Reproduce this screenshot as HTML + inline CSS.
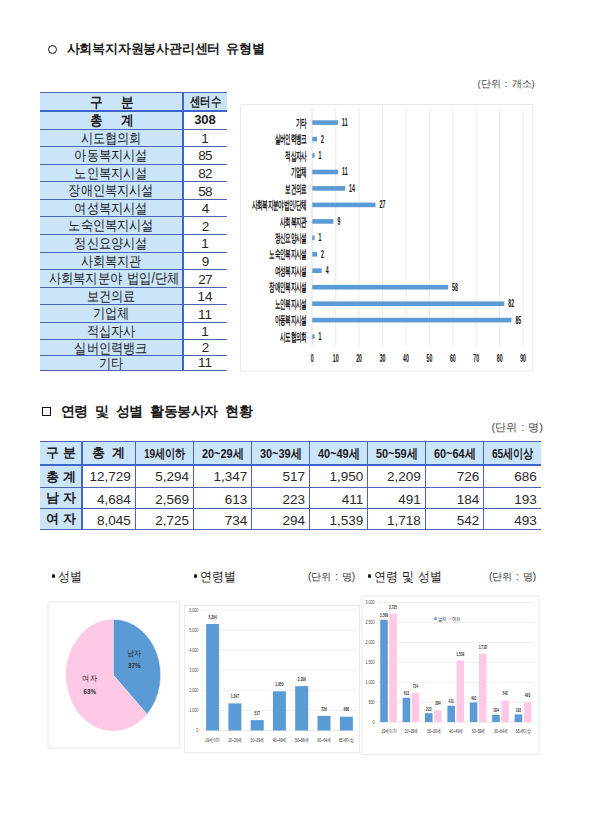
<!DOCTYPE html>
<html lang="ko"><head><meta charset="utf-8"><title>사회복지자원봉사 현황</title>
<style>
html,body{margin:0;padding:0;background:#fff;}
body{width:603px;height:822px;position:relative;overflow:hidden;font-family:"Liberation Sans",sans-serif;color:#1a1a1a;}
.abs{position:absolute;white-space:nowrap;}
.c{position:absolute;white-space:nowrap;text-align:center;}
.r{position:absolute;white-space:nowrap;text-align:right;}
.b{font-weight:bold;}
.hl{position:absolute;background:#4B63B3;}
.hk{background:#3F64CC;}
.fill{position:absolute;background:#CAE4FA;}
.nx{display:inline-block;transform-origin:50% 50%;}
svg{position:absolute;left:0;top:0;}
svg text{font-family:"Liberation Sans",sans-serif;}
</style></head><body>

<div class="abs" style="left:48px;top:45px;width:7px;height:7px;border:1.2px solid #111;border-radius:50%;"></div>
<div class="abs b" style="left:66.5px;top:40px;font-size:13px;line-height:18px;letter-spacing:-0.2px;word-spacing:2.5px;">사회복지자원봉사관리센터 유형별</div>
<div class="abs" style="left:477.5px;top:78px;font-size:9.5px;line-height:12px;color:#444;word-spacing:1.5px;">(단위 : 개소)</div>
<div class="fill" style="left:40px;top:92.5px;width:142px;height:277.5px;"></div>
<div class="fill" style="left:182px;top:92.5px;width:45px;height:18.3px;"></div>
<div class="hl" style="left:40px;top:92px;width:187px;height:1px;"></div>
<div class="hl hk" style="left:40px;top:110px;width:187px;height:2px;"></div>
<div class="hl" style="left:40px;top:129px;width:187px;height:1px;"></div>
<div class="hl" style="left:40px;top:146px;width:187px;height:1px;"></div>
<div class="hl" style="left:40px;top:164px;width:187px;height:1px;"></div>
<div class="hl" style="left:40px;top:181px;width:187px;height:1px;"></div>
<div class="hl" style="left:40px;top:199px;width:187px;height:1px;"></div>
<div class="hl" style="left:40px;top:216px;width:187px;height:1px;"></div>
<div class="hl" style="left:40px;top:234px;width:187px;height:1px;"></div>
<div class="hl" style="left:40px;top:252px;width:187px;height:1px;"></div>
<div class="hl" style="left:40px;top:269px;width:187px;height:1px;"></div>
<div class="hl" style="left:40px;top:287px;width:187px;height:1px;"></div>
<div class="hl" style="left:40px;top:304px;width:187px;height:1px;"></div>
<div class="hl" style="left:40px;top:322px;width:187px;height:1px;"></div>
<div class="hl" style="left:40px;top:339px;width:187px;height:1px;"></div>
<div class="hl" style="left:40px;top:355px;width:187px;height:1px;"></div>
<div class="hl" style="left:40px;top:370px;width:187px;height:1px;"></div>
<div class="hl hk" style="left:182px;top:92px;width:2px;height:279px;"></div>
<div class="c b" style="left:41px;top:93.0px;width:142px;height:18.3px;line-height:18.3px;font-size:14px;word-spacing:3px;transform:scaleX(0.9);">구&nbsp;&nbsp;&nbsp;분</div>
<div class="c b" style="left:183px;top:93.0px;width:44px;height:18.3px;line-height:18.3px;font-size:13px;"><span class="nx" style="transform:scaleX(0.8);">센터수</span></div>
<div class="c b" style="left:41px;top:111.3px;width:142px;height:18.6px;line-height:18.6px;font-size:14px;word-spacing:3px;transform:scaleX(0.9);">총&nbsp;&nbsp;&nbsp;계</div>
<div class="c b" style="left:183px;top:111.3px;width:44px;height:18.6px;line-height:18.6px;font-size:13px;">308</div>
<div class="c" style="left:40px;top:129.9px;width:142px;height:17.0px;line-height:17.0px;font-size:14px;word-spacing:1px;transform:scaleX(0.87);">시도협의회</div>
<div class="c" style="left:183px;top:130.4px;width:44px;height:17.0px;line-height:17.0px;font-size:13.5px;color:#262626;">1</div>
<div class="c" style="left:40px;top:146.9px;width:142px;height:17.9px;line-height:17.9px;font-size:14px;word-spacing:1px;transform:scaleX(0.87);">아동복지시설</div>
<div class="c" style="left:183px;top:147.4px;width:44px;height:17.9px;line-height:17.9px;font-size:13.5px;letter-spacing:-0.8px;color:#262626;">85</div>
<div class="c" style="left:40px;top:164.8px;width:142px;height:17.3px;line-height:17.3px;font-size:14px;word-spacing:1px;transform:scaleX(0.87);">노인복지시설</div>
<div class="c" style="left:183px;top:165.3px;width:44px;height:17.3px;line-height:17.3px;font-size:13.5px;letter-spacing:-0.8px;color:#262626;">82</div>
<div class="c" style="left:40px;top:182.1px;width:142px;height:17.7px;line-height:17.7px;font-size:14px;word-spacing:1px;transform:scaleX(0.87);">장애인복지시설</div>
<div class="c" style="left:183px;top:182.6px;width:44px;height:17.7px;line-height:17.7px;font-size:13.5px;letter-spacing:-0.8px;color:#262626;">58</div>
<div class="c" style="left:40px;top:199.8px;width:142px;height:17.3px;line-height:17.3px;font-size:14px;word-spacing:1px;transform:scaleX(0.87);">여성복지시설</div>
<div class="c" style="left:183px;top:200.3px;width:44px;height:17.3px;line-height:17.3px;font-size:13.5px;letter-spacing:-0.8px;color:#262626;">4</div>
<div class="c" style="left:40px;top:217.1px;width:142px;height:17.6px;line-height:17.6px;font-size:14px;word-spacing:1px;transform:scaleX(0.87);">노숙인복지시설</div>
<div class="c" style="left:183px;top:217.6px;width:44px;height:17.6px;line-height:17.6px;font-size:13.5px;letter-spacing:-0.8px;color:#262626;">2</div>
<div class="c" style="left:40px;top:234.7px;width:142px;height:17.9px;line-height:17.9px;font-size:14px;word-spacing:1px;transform:scaleX(0.87);">정신요양시설</div>
<div class="c" style="left:183px;top:235.2px;width:44px;height:17.9px;line-height:17.9px;font-size:13.5px;color:#262626;">1</div>
<div class="c" style="left:40px;top:252.6px;width:142px;height:17.5px;line-height:17.5px;font-size:14px;word-spacing:1px;transform:scaleX(0.87);">사회복지관</div>
<div class="c" style="left:183px;top:253.1px;width:44px;height:17.5px;line-height:17.5px;font-size:13.5px;letter-spacing:-0.8px;color:#262626;">9</div>
<div class="c" style="left:40px;top:270.1px;width:142px;height:17.7px;line-height:17.7px;font-size:14px;word-spacing:1px;transform:scaleX(0.88);">사회복지분야 법입/단체</div>
<div class="c" style="left:183px;top:270.6px;width:44px;height:17.7px;line-height:17.7px;font-size:13.5px;letter-spacing:-0.8px;color:#262626;">27</div>
<div class="c" style="left:40px;top:287.8px;width:142px;height:17.3px;line-height:17.3px;font-size:14px;word-spacing:1px;transform:scaleX(0.87);">보건의료</div>
<div class="c" style="left:183px;top:288.3px;width:44px;height:17.3px;line-height:17.3px;font-size:13.5px;color:#262626;">14</div>
<div class="c" style="left:40px;top:305.1px;width:142px;height:17.7px;line-height:17.7px;font-size:14px;word-spacing:1px;transform:scaleX(0.87);">기업체</div>
<div class="c" style="left:183px;top:305.6px;width:44px;height:17.7px;line-height:17.7px;font-size:13.5px;color:#262626;">11</div>
<div class="c" style="left:40px;top:322.8px;width:142px;height:17.0px;line-height:17.0px;font-size:14px;word-spacing:1px;transform:scaleX(0.87);">적십자사</div>
<div class="c" style="left:183px;top:323.3px;width:44px;height:17.0px;line-height:17.0px;font-size:13.5px;color:#262626;">1</div>
<div class="c" style="left:40px;top:339.8px;width:142px;height:16.1px;line-height:16.1px;font-size:14px;word-spacing:1px;transform:scaleX(0.87);">실버인력뱅크</div>
<div class="c" style="left:183px;top:340.3px;width:44px;height:16.1px;line-height:16.1px;font-size:13.5px;letter-spacing:-0.8px;color:#262626;">2</div>
<div class="c" style="left:40px;top:355.9px;width:142px;height:14.6px;line-height:14.6px;font-size:14px;word-spacing:1px;transform:scaleX(0.87);">기타</div>
<div class="c" style="left:183px;top:356.4px;width:44px;height:14.6px;line-height:14.6px;font-size:13.5px;color:#262626;">11</div>
<svg width="603" height="822" viewBox="0 0 603 822">
<rect x="240.5" y="104.5" width="292" height="266.6" fill="#fff" stroke="#e9e9e9" stroke-width="1"/>
<line x1="335.7" y1="108" x2="335.7" y2="346" stroke="#ebebeb" stroke-width="1"/>
<line x1="359.1" y1="108" x2="359.1" y2="346" stroke="#ebebeb" stroke-width="1"/>
<line x1="382.6" y1="108" x2="382.6" y2="346" stroke="#ebebeb" stroke-width="1"/>
<line x1="406.0" y1="108" x2="406.0" y2="346" stroke="#ebebeb" stroke-width="1"/>
<line x1="429.4" y1="108" x2="429.4" y2="346" stroke="#ebebeb" stroke-width="1"/>
<line x1="452.8" y1="108" x2="452.8" y2="346" stroke="#ebebeb" stroke-width="1"/>
<line x1="476.2" y1="108" x2="476.2" y2="346" stroke="#ebebeb" stroke-width="1"/>
<line x1="499.7" y1="108" x2="499.7" y2="346" stroke="#ebebeb" stroke-width="1"/>
<line x1="523.1" y1="108" x2="523.1" y2="346" stroke="#ebebeb" stroke-width="1"/>
<line x1="312" y1="108" x2="312" y2="346" stroke="#dedede" stroke-width="1"/>
<rect x="312.3" y="120.3" width="25.8" height="4.6" fill="#5B9BD5"/>
<text x="306.8" y="126.8" font-size="12" font-weight="bold" fill="#111" text-anchor="end" transform="translate(306.8 0) scale(0.465 1) translate(-306.8 0)">기타</text>
<text x="342.1" y="126.1" font-size="10" font-weight="bold" fill="#111" transform="translate(342.1 0) scale(0.52 1) translate(-342.1 0)">11</text>
<rect x="312.3" y="136.8" width="4.7" height="4.6" fill="#5B9BD5"/>
<text x="306.8" y="143.3" font-size="12" font-weight="bold" fill="#111" text-anchor="end" transform="translate(306.8 0) scale(0.465 1) translate(-306.8 0)">실버인력뱅크</text>
<text x="321.0" y="142.6" font-size="10" font-weight="bold" fill="#111" transform="translate(321.0 0) scale(0.52 1) translate(-321.0 0)">2</text>
<rect x="312.3" y="153.2" width="2.3" height="4.6" fill="#5B9BD5"/>
<text x="306.8" y="159.7" font-size="12" font-weight="bold" fill="#111" text-anchor="end" transform="translate(306.8 0) scale(0.465 1) translate(-306.8 0)">적십자사</text>
<text x="318.6" y="159.0" font-size="10" font-weight="bold" fill="#111" transform="translate(318.6 0) scale(0.52 1) translate(-318.6 0)">1</text>
<rect x="312.3" y="169.7" width="25.8" height="4.6" fill="#5B9BD5"/>
<text x="306.8" y="176.2" font-size="12" font-weight="bold" fill="#111" text-anchor="end" transform="translate(306.8 0) scale(0.465 1) translate(-306.8 0)">기업체</text>
<text x="342.1" y="175.5" font-size="10" font-weight="bold" fill="#111" transform="translate(342.1 0) scale(0.52 1) translate(-342.1 0)">11</text>
<rect x="312.3" y="186.1" width="32.8" height="4.6" fill="#5B9BD5"/>
<text x="306.8" y="192.6" font-size="12" font-weight="bold" fill="#111" text-anchor="end" transform="translate(306.8 0) scale(0.465 1) translate(-306.8 0)">보건의료</text>
<text x="349.1" y="191.9" font-size="10" font-weight="bold" fill="#111" transform="translate(349.1 0) scale(0.52 1) translate(-349.1 0)">14</text>
<rect x="312.3" y="202.6" width="63.2" height="4.6" fill="#5B9BD5"/>
<text x="306.8" y="209.1" font-size="12" font-weight="bold" fill="#111" text-anchor="end" transform="translate(306.8 0) scale(0.465 1) translate(-306.8 0)">사회복지분야법인/단체</text>
<text x="379.5" y="208.4" font-size="10" font-weight="bold" fill="#111" transform="translate(379.5 0) scale(0.52 1) translate(-379.5 0)">27</text>
<rect x="312.3" y="219.1" width="21.1" height="4.6" fill="#5B9BD5"/>
<text x="306.8" y="225.6" font-size="12" font-weight="bold" fill="#111" text-anchor="end" transform="translate(306.8 0) scale(0.465 1) translate(-306.8 0)">사회복지관</text>
<text x="337.4" y="224.9" font-size="10" font-weight="bold" fill="#111" transform="translate(337.4 0) scale(0.52 1) translate(-337.4 0)">9</text>
<rect x="312.3" y="235.5" width="2.3" height="4.6" fill="#5B9BD5"/>
<text x="306.8" y="242.0" font-size="12" font-weight="bold" fill="#111" text-anchor="end" transform="translate(306.8 0) scale(0.465 1) translate(-306.8 0)">정신요양시설</text>
<text x="318.6" y="241.3" font-size="10" font-weight="bold" fill="#111" transform="translate(318.6 0) scale(0.52 1) translate(-318.6 0)">1</text>
<rect x="312.3" y="252.0" width="4.7" height="4.6" fill="#5B9BD5"/>
<text x="306.8" y="258.5" font-size="12" font-weight="bold" fill="#111" text-anchor="end" transform="translate(306.8 0) scale(0.465 1) translate(-306.8 0)">노숙인복지시설</text>
<text x="321.0" y="257.8" font-size="10" font-weight="bold" fill="#111" transform="translate(321.0 0) scale(0.52 1) translate(-321.0 0)">2</text>
<rect x="312.3" y="268.4" width="9.4" height="4.6" fill="#5B9BD5"/>
<text x="306.8" y="274.9" font-size="12" font-weight="bold" fill="#111" text-anchor="end" transform="translate(306.8 0) scale(0.465 1) translate(-306.8 0)">여성복지시설</text>
<text x="325.7" y="274.2" font-size="10" font-weight="bold" fill="#111" transform="translate(325.7 0) scale(0.52 1) translate(-325.7 0)">4</text>
<rect x="312.3" y="284.9" width="135.8" height="4.6" fill="#5B9BD5"/>
<text x="306.8" y="291.4" font-size="12" font-weight="bold" fill="#111" text-anchor="end" transform="translate(306.8 0) scale(0.465 1) translate(-306.8 0)">장애인복지시설</text>
<text x="452.1" y="290.7" font-size="10" font-weight="bold" fill="#111" transform="translate(452.1 0) scale(0.52 1) translate(-452.1 0)">58</text>
<rect x="312.3" y="301.4" width="192.0" height="4.6" fill="#5B9BD5"/>
<text x="306.8" y="307.9" font-size="12" font-weight="bold" fill="#111" text-anchor="end" transform="translate(306.8 0) scale(0.465 1) translate(-306.8 0)">노인복지시설</text>
<text x="508.3" y="307.2" font-size="10" font-weight="bold" fill="#111" transform="translate(508.3 0) scale(0.52 1) translate(-508.3 0)">82</text>
<rect x="312.3" y="317.8" width="199.1" height="4.6" fill="#5B9BD5"/>
<text x="306.8" y="324.3" font-size="12" font-weight="bold" fill="#111" text-anchor="end" transform="translate(306.8 0) scale(0.465 1) translate(-306.8 0)">아동복지시설</text>
<text x="515.4" y="323.6" font-size="10" font-weight="bold" fill="#111" transform="translate(515.4 0) scale(0.52 1) translate(-515.4 0)">85</text>
<rect x="312.3" y="334.3" width="2.3" height="4.6" fill="#5B9BD5"/>
<text x="306.8" y="340.8" font-size="12" font-weight="bold" fill="#111" text-anchor="end" transform="translate(306.8 0) scale(0.465 1) translate(-306.8 0)">시도협의회</text>
<text x="318.6" y="340.1" font-size="10" font-weight="bold" fill="#111" transform="translate(318.6 0) scale(0.52 1) translate(-318.6 0)">1</text>
<text x="312.3" y="362" font-size="10" font-weight="bold" fill="#111" text-anchor="middle" transform="translate(312.3 0) scale(0.52 1) translate(-312.3 0)">0</text>
<text x="335.7" y="362" font-size="10" font-weight="bold" fill="#111" text-anchor="middle" transform="translate(335.7 0) scale(0.52 1) translate(-335.7 0)">10</text>
<text x="359.1" y="362" font-size="10" font-weight="bold" fill="#111" text-anchor="middle" transform="translate(359.1 0) scale(0.52 1) translate(-359.1 0)">20</text>
<text x="382.6" y="362" font-size="10" font-weight="bold" fill="#111" text-anchor="middle" transform="translate(382.6 0) scale(0.52 1) translate(-382.6 0)">30</text>
<text x="406.0" y="362" font-size="10" font-weight="bold" fill="#111" text-anchor="middle" transform="translate(406.0 0) scale(0.52 1) translate(-406.0 0)">40</text>
<text x="429.4" y="362" font-size="10" font-weight="bold" fill="#111" text-anchor="middle" transform="translate(429.4 0) scale(0.52 1) translate(-429.4 0)">50</text>
<text x="452.8" y="362" font-size="10" font-weight="bold" fill="#111" text-anchor="middle" transform="translate(452.8 0) scale(0.52 1) translate(-452.8 0)">60</text>
<text x="476.2" y="362" font-size="10" font-weight="bold" fill="#111" text-anchor="middle" transform="translate(476.2 0) scale(0.52 1) translate(-476.2 0)">70</text>
<text x="499.7" y="362" font-size="10" font-weight="bold" fill="#111" text-anchor="middle" transform="translate(499.7 0) scale(0.52 1) translate(-499.7 0)">80</text>
<text x="523.1" y="362" font-size="10" font-weight="bold" fill="#111" text-anchor="middle" transform="translate(523.1 0) scale(0.52 1) translate(-523.1 0)">90</text>
</svg>
<div class="abs" style="left:41.5px;top:407px;width:7.2px;height:7px;border:1.4px solid #111;"></div>
<div class="abs b" style="left:60.5px;top:401px;font-size:14px;line-height:20px;letter-spacing:-0.5px;word-spacing:4px;">연령 및 성별 활동봉사자 현황</div>
<div class="abs" style="left:491.5px;top:419.5px;font-size:11px;line-height:14px;color:#444;word-spacing:1px;">(단위 : 명)</div>
<div class="fill" style="left:40.0px;top:441.2px;width:501.4px;height:23.4px;"></div>
<div class="fill" style="left:40.0px;top:441.2px;width:41.7px;height:88.3px;"></div>
<div class="hl" style="left:40px;top:441px;width:501px;height:1px;"></div>
<div class="hl hk" style="left:40px;top:464px;width:501px;height:2px;"></div>
<div class="hl" style="left:40px;top:487px;width:501px;height:1px;"></div>
<div class="hl" style="left:40px;top:508px;width:501px;height:1px;"></div>
<div class="hl" style="left:40px;top:529px;width:501px;height:1px;"></div>
<div class="hl hk" style="left:81px;top:441px;width:2px;height:89px;"></div>
<div class="hl" style="left:135px;top:441px;width:1px;height:89px;"></div>
<div class="hl" style="left:193px;top:441px;width:1px;height:89px;"></div>
<div class="hl" style="left:251px;top:441px;width:1px;height:89px;"></div>
<div class="hl" style="left:309px;top:441px;width:1px;height:89px;"></div>
<div class="hl" style="left:367px;top:441px;width:1px;height:89px;"></div>
<div class="hl" style="left:425px;top:441px;width:1px;height:89px;"></div>
<div class="hl" style="left:483px;top:441px;width:1px;height:89px;"></div>
<div class="c b" style="left:40.0px;top:442.2px;width:41.7px;height:23.4px;line-height:23.4px;font-size:12.5px;">구&nbsp;분</div>
<div class="c b" style="left:81.7px;top:442.2px;width:53.8px;height:23.4px;line-height:23.4px;font-size:12.5px;">총&nbsp;&nbsp;계</div>
<div class="c b" style="left:135.5px;top:442.2px;width:58.2px;height:23.4px;line-height:23.4px;font-size:13.0px;"><span class="nx" style="transform:scaleX(0.78);">19세이하</span></div>
<div class="c b" style="left:193.7px;top:442.2px;width:58.1px;height:23.4px;line-height:23.4px;font-size:13.0px;"><span class="nx" style="transform:scaleX(0.84);">20~29세</span></div>
<div class="c b" style="left:251.8px;top:442.2px;width:57.9px;height:23.4px;line-height:23.4px;font-size:13.0px;"><span class="nx" style="transform:scaleX(0.84);">30~39세</span></div>
<div class="c b" style="left:309.7px;top:442.2px;width:58.1px;height:23.4px;line-height:23.4px;font-size:13.0px;"><span class="nx" style="transform:scaleX(0.84);">40~49세</span></div>
<div class="c b" style="left:367.8px;top:442.2px;width:57.5px;height:23.4px;line-height:23.4px;font-size:13.0px;"><span class="nx" style="transform:scaleX(0.84);">50~59세</span></div>
<div class="c b" style="left:425.3px;top:442.2px;width:58.5px;height:23.4px;line-height:23.4px;font-size:13.0px;"><span class="nx" style="transform:scaleX(0.84);">60~64세</span></div>
<div class="c b" style="left:483.8px;top:442.2px;width:57.6px;height:23.4px;line-height:23.4px;font-size:13.0px;"><span class="nx" style="transform:scaleX(0.78);">65세이상</span></div>
<div class="c b" style="left:40.0px;top:465.6px;width:41.7px;height:22.6px;line-height:22.6px;font-size:12.5px;letter-spacing:0.3px;">총&nbsp;계</div>
<div class="r" style="left:81.7px;top:466.1px;width:49.2px;height:22.6px;line-height:22.6px;font-size:13.5px;color:#2a2a2a;">12,729</div>
<div class="r" style="left:135.5px;top:466.1px;width:53.6px;height:22.6px;line-height:22.6px;font-size:13.5px;color:#2a2a2a;">5,294</div>
<div class="r" style="left:193.7px;top:466.1px;width:53.5px;height:22.6px;line-height:22.6px;font-size:13.5px;color:#2a2a2a;">1,347</div>
<div class="r" style="left:251.8px;top:466.1px;width:53.3px;height:22.6px;line-height:22.6px;font-size:13.5px;color:#2a2a2a;">517</div>
<div class="r" style="left:309.7px;top:466.1px;width:53.5px;height:22.6px;line-height:22.6px;font-size:13.5px;color:#2a2a2a;">1,950</div>
<div class="r" style="left:367.8px;top:466.1px;width:52.9px;height:22.6px;line-height:22.6px;font-size:13.5px;color:#2a2a2a;">2,209</div>
<div class="r" style="left:425.3px;top:466.1px;width:53.9px;height:22.6px;line-height:22.6px;font-size:13.5px;color:#2a2a2a;">726</div>
<div class="r" style="left:483.8px;top:466.1px;width:53.0px;height:22.6px;line-height:22.6px;font-size:13.5px;color:#2a2a2a;">686</div>
<div class="c b" style="left:40.0px;top:488.2px;width:41.7px;height:21.2px;line-height:21.2px;font-size:12.5px;letter-spacing:0.3px;">남&nbsp;자</div>
<div class="r" style="left:81.7px;top:488.7px;width:49.2px;height:21.2px;line-height:21.2px;font-size:13.5px;color:#2a2a2a;">4,684</div>
<div class="r" style="left:135.5px;top:488.7px;width:53.6px;height:21.2px;line-height:21.2px;font-size:13.5px;color:#2a2a2a;">2,569</div>
<div class="r" style="left:193.7px;top:488.7px;width:53.5px;height:21.2px;line-height:21.2px;font-size:13.5px;color:#2a2a2a;">613</div>
<div class="r" style="left:251.8px;top:488.7px;width:53.3px;height:21.2px;line-height:21.2px;font-size:13.5px;color:#2a2a2a;">223</div>
<div class="r" style="left:309.7px;top:488.7px;width:53.5px;height:21.2px;line-height:21.2px;font-size:13.5px;color:#2a2a2a;">411</div>
<div class="r" style="left:367.8px;top:488.7px;width:52.9px;height:21.2px;line-height:21.2px;font-size:13.5px;color:#2a2a2a;">491</div>
<div class="r" style="left:425.3px;top:488.7px;width:53.9px;height:21.2px;line-height:21.2px;font-size:13.5px;color:#2a2a2a;">184</div>
<div class="r" style="left:483.8px;top:488.7px;width:53.0px;height:21.2px;line-height:21.2px;font-size:13.5px;color:#2a2a2a;">193</div>
<div class="c b" style="left:40.0px;top:509.4px;width:41.7px;height:21.1px;line-height:21.1px;font-size:12.5px;letter-spacing:0.3px;">여&nbsp;자</div>
<div class="r" style="left:81.7px;top:509.9px;width:49.2px;height:21.1px;line-height:21.1px;font-size:13.5px;color:#2a2a2a;">8,045</div>
<div class="r" style="left:135.5px;top:509.9px;width:53.6px;height:21.1px;line-height:21.1px;font-size:13.5px;color:#2a2a2a;">2,725</div>
<div class="r" style="left:193.7px;top:509.9px;width:53.5px;height:21.1px;line-height:21.1px;font-size:13.5px;color:#2a2a2a;">734</div>
<div class="r" style="left:251.8px;top:509.9px;width:53.3px;height:21.1px;line-height:21.1px;font-size:13.5px;color:#2a2a2a;">294</div>
<div class="r" style="left:309.7px;top:509.9px;width:53.5px;height:21.1px;line-height:21.1px;font-size:13.5px;color:#2a2a2a;">1,539</div>
<div class="r" style="left:367.8px;top:509.9px;width:52.9px;height:21.1px;line-height:21.1px;font-size:13.5px;color:#2a2a2a;">1,718</div>
<div class="r" style="left:425.3px;top:509.9px;width:53.9px;height:21.1px;line-height:21.1px;font-size:13.5px;color:#2a2a2a;">542</div>
<div class="r" style="left:483.8px;top:509.9px;width:53.0px;height:21.1px;line-height:21.1px;font-size:13.5px;color:#2a2a2a;">493</div>
<div class="abs" style="left:51.5px;top:569.0px;font-size:12.5px;line-height:16px;word-spacing:0.0px;"><span style="display:inline-block;width:3.4px;height:3.4px;border-radius:50%;background:#111;vertical-align:3.5px;margin-right:3.2px;"></span><span class="nx" style="transform:scaleX(0.92);transform-origin:0 50%;">성별</span></div>
<div class="abs" style="left:193.8px;top:569.0px;font-size:12.5px;line-height:16px;word-spacing:0.0px;"><span style="display:inline-block;width:3.4px;height:3.4px;border-radius:50%;background:#111;vertical-align:3.5px;margin-right:3.2px;"></span><span class="nx" style="transform:scaleX(0.92);transform-origin:0 50%;">연령별</span></div>
<div class="abs" style="left:308px;top:570px;font-size:10px;line-height:14px;color:#333;word-spacing:1px;">(단위 : 명)</div>
<div class="abs" style="left:367.6px;top:569.0px;font-size:12.5px;line-height:16px;word-spacing:0.8px;"><span style="display:inline-block;width:3.4px;height:3.4px;border-radius:50%;background:#111;vertical-align:3.5px;margin-right:3.2px;"></span><span class="nx" style="transform:scaleX(0.92);transform-origin:0 50%;">연령 및 성별</span></div>
<div class="abs" style="left:489px;top:570px;font-size:10px;line-height:14px;color:#333;word-spacing:1px;">(단위 : 명)</div>
<svg width="603" height="822" viewBox="0 0 603 822">
<rect x="48" y="602" width="131.3" height="146.2" fill="#fff" stroke="#e8e8e8" stroke-width="1"/>
<ellipse cx="113.3" cy="675.1" rx="47.4" ry="55.8" fill="#FFC9E6"/>
<path d="M113.3 675.1 L113.3 619.3 A47.4 55.8 0 0 1 147.1 714.2 Z" fill="#5B9BD5" stroke="#fff" stroke-width="0.6"/>
<text x="134.2" y="655.8" font-size="8" fill="#2a2a2a" text-anchor="middle" transform="translate(134.2 0) scale(0.9 1) translate(-134.2 0)">남자</text>
<text x="134.2" y="668.2" font-size="7" font-weight="bold" fill="#2a2a2a" text-anchor="middle" transform="translate(134.2 0) scale(0.9 1) translate(-134.2 0)">37%</text>
<text x="89.7" y="681.3" font-size="8" fill="#2a2a2a" text-anchor="middle" transform="translate(89.7 0) scale(0.9 1) translate(-89.7 0)">여자</text>
<text x="89.7" y="693.8" font-size="7" font-weight="bold" fill="#2a2a2a" text-anchor="middle" transform="translate(89.7 0) scale(0.9 1) translate(-89.7 0)">63%</text>
<rect x="184.6" y="605.6" width="175" height="147" fill="#fff" stroke="#e8e8e8" stroke-width="1"/>
<line x1="201.4" y1="730.5" x2="357.3" y2="730.5" stroke="#e8e8e8" stroke-width="0.8"/>
<text x="198.4" y="732.3" font-size="5.4" fill="#444" text-anchor="end" transform="translate(198.4 0) scale(0.68 1) translate(-198.4 0)">0</text>
<line x1="201.4" y1="710.4" x2="357.3" y2="710.4" stroke="#e8e8e8" stroke-width="0.8"/>
<text x="198.4" y="712.2" font-size="5.4" fill="#444" text-anchor="end" transform="translate(198.4 0) scale(0.68 1) translate(-198.4 0)">1,000</text>
<line x1="201.4" y1="690.3" x2="357.3" y2="690.3" stroke="#e8e8e8" stroke-width="0.8"/>
<text x="198.4" y="692.1" font-size="5.4" fill="#444" text-anchor="end" transform="translate(198.4 0) scale(0.68 1) translate(-198.4 0)">2,000</text>
<line x1="201.4" y1="670.1" x2="357.3" y2="670.1" stroke="#e8e8e8" stroke-width="0.8"/>
<text x="198.4" y="671.9" font-size="5.4" fill="#444" text-anchor="end" transform="translate(198.4 0) scale(0.68 1) translate(-198.4 0)">3,000</text>
<line x1="201.4" y1="650.0" x2="357.3" y2="650.0" stroke="#e8e8e8" stroke-width="0.8"/>
<text x="198.4" y="651.8" font-size="5.4" fill="#444" text-anchor="end" transform="translate(198.4 0) scale(0.68 1) translate(-198.4 0)">4,000</text>
<line x1="201.4" y1="629.9" x2="357.3" y2="629.9" stroke="#e8e8e8" stroke-width="0.8"/>
<text x="198.4" y="631.7" font-size="5.4" fill="#444" text-anchor="end" transform="translate(198.4 0) scale(0.68 1) translate(-198.4 0)">5,000</text>
<line x1="201.4" y1="609.8" x2="357.3" y2="609.8" stroke="#e8e8e8" stroke-width="0.8"/>
<text x="198.4" y="611.6" font-size="5.4" fill="#444" text-anchor="end" transform="translate(198.4 0) scale(0.68 1) translate(-198.4 0)">6,000</text>
<rect x="206.1" y="624.0" width="13" height="106.5" fill="#5B9BD5"/>
<text x="212.6" y="618.7" font-size="5.4" font-weight="bold" fill="#333" text-anchor="middle" transform="translate(212.6 0) scale(0.62 1) translate(-212.6 0)">5,294</text>
<text x="212.6" y="742.0" font-size="5.6" fill="#333" text-anchor="middle" transform="translate(212.6 0) scale(0.62 1) translate(-212.6 0)">19세이하</text>
<rect x="228.4" y="703.4" width="13" height="27.1" fill="#5B9BD5"/>
<text x="234.9" y="698.1" font-size="5.4" font-weight="bold" fill="#333" text-anchor="middle" transform="translate(234.9 0) scale(0.62 1) translate(-234.9 0)">1,347</text>
<text x="234.9" y="742.0" font-size="5.6" fill="#333" text-anchor="middle" transform="translate(234.9 0) scale(0.62 1) translate(-234.9 0)">20~29세</text>
<rect x="250.7" y="720.1" width="13" height="10.4" fill="#5B9BD5"/>
<text x="257.1" y="714.8" font-size="5.4" font-weight="bold" fill="#333" text-anchor="middle" transform="translate(257.1 0) scale(0.62 1) translate(-257.1 0)">517</text>
<text x="257.1" y="742.0" font-size="5.6" fill="#333" text-anchor="middle" transform="translate(257.1 0) scale(0.62 1) translate(-257.1 0)">30~39세</text>
<rect x="272.9" y="691.3" width="13" height="39.2" fill="#5B9BD5"/>
<text x="279.4" y="686.0" font-size="5.4" font-weight="bold" fill="#333" text-anchor="middle" transform="translate(279.4 0) scale(0.62 1) translate(-279.4 0)">1,950</text>
<text x="279.4" y="742.0" font-size="5.6" fill="#333" text-anchor="middle" transform="translate(279.4 0) scale(0.62 1) translate(-279.4 0)">40~49세</text>
<rect x="295.2" y="686.1" width="13" height="44.4" fill="#5B9BD5"/>
<text x="301.8" y="680.8" font-size="5.4" font-weight="bold" fill="#333" text-anchor="middle" transform="translate(301.8 0) scale(0.62 1) translate(-301.8 0)">2,209</text>
<text x="301.8" y="742.0" font-size="5.6" fill="#333" text-anchor="middle" transform="translate(301.8 0) scale(0.62 1) translate(-301.8 0)">50~59세</text>
<rect x="317.5" y="715.9" width="13" height="14.6" fill="#5B9BD5"/>
<text x="324.0" y="710.6" font-size="5.4" font-weight="bold" fill="#333" text-anchor="middle" transform="translate(324.0 0) scale(0.62 1) translate(-324.0 0)">726</text>
<text x="324.0" y="742.0" font-size="5.6" fill="#333" text-anchor="middle" transform="translate(324.0 0) scale(0.62 1) translate(-324.0 0)">60~64세</text>
<rect x="339.9" y="716.7" width="13" height="13.8" fill="#5B9BD5"/>
<text x="346.4" y="711.4" font-size="5.4" font-weight="bold" fill="#333" text-anchor="middle" transform="translate(346.4 0) scale(0.62 1) translate(-346.4 0)">686</text>
<text x="346.4" y="742.0" font-size="5.6" fill="#333" text-anchor="middle" transform="translate(346.4 0) scale(0.62 1) translate(-346.4 0)">65세이상</text>
<rect x="361.8" y="596.2" width="177" height="158.6" fill="#fff" stroke="#e8e8e8" stroke-width="1"/>
<line x1="377.7" y1="722.1" x2="534.6" y2="722.1" stroke="#e8e8e8" stroke-width="0.8"/>
<text x="374.6" y="723.9" font-size="5.4" fill="#444" text-anchor="end" transform="translate(374.6 0) scale(0.68 1) translate(-374.6 0)">0</text>
<line x1="377.7" y1="702.2" x2="534.6" y2="702.2" stroke="#e8e8e8" stroke-width="0.8"/>
<text x="374.6" y="704.0" font-size="5.4" fill="#444" text-anchor="end" transform="translate(374.6 0) scale(0.68 1) translate(-374.6 0)">500</text>
<line x1="377.7" y1="682.3" x2="534.6" y2="682.3" stroke="#e8e8e8" stroke-width="0.8"/>
<text x="374.6" y="684.1" font-size="5.4" fill="#444" text-anchor="end" transform="translate(374.6 0) scale(0.68 1) translate(-374.6 0)">1,000</text>
<line x1="377.7" y1="662.4" x2="534.6" y2="662.4" stroke="#e8e8e8" stroke-width="0.8"/>
<text x="374.6" y="664.2" font-size="5.4" fill="#444" text-anchor="end" transform="translate(374.6 0) scale(0.68 1) translate(-374.6 0)">1,500</text>
<line x1="377.7" y1="642.4" x2="534.6" y2="642.4" stroke="#e8e8e8" stroke-width="0.8"/>
<text x="374.6" y="644.2" font-size="5.4" fill="#444" text-anchor="end" transform="translate(374.6 0) scale(0.68 1) translate(-374.6 0)">2,000</text>
<line x1="377.7" y1="622.5" x2="534.6" y2="622.5" stroke="#e8e8e8" stroke-width="0.8"/>
<text x="374.6" y="624.3" font-size="5.4" fill="#444" text-anchor="end" transform="translate(374.6 0) scale(0.68 1) translate(-374.6 0)">2,500</text>
<line x1="377.7" y1="602.6" x2="534.6" y2="602.6" stroke="#e8e8e8" stroke-width="0.8"/>
<text x="374.6" y="604.4" font-size="5.4" fill="#444" text-anchor="end" transform="translate(374.6 0) scale(0.68 1) translate(-374.6 0)">3,000</text>
<rect x="380.2" y="619.8" width="7.6" height="102.3" fill="#5B9BD5"/>
<rect x="389.3" y="613.6" width="7.6" height="108.5" fill="#FFC9E6"/>
<text x="384.0" y="617.2" font-size="5.2" font-weight="bold" fill="#333" text-anchor="middle" transform="translate(384.0 0) scale(0.62 1) translate(-384.0 0)">2,569</text>
<text x="393.1" y="608.6" font-size="5.2" font-weight="bold" fill="#333" text-anchor="middle" transform="translate(393.1 0) scale(0.62 1) translate(-393.1 0)">2,725</text>
<text x="388.9" y="733.2" font-size="5.6" fill="#333" text-anchor="middle" transform="translate(388.9 0) scale(0.62 1) translate(-388.9 0)">19세이하</text>
<rect x="402.6" y="697.7" width="7.6" height="24.4" fill="#5B9BD5"/>
<rect x="411.7" y="692.9" width="7.6" height="29.2" fill="#FFC9E6"/>
<text x="406.4" y="695.1" font-size="5.2" font-weight="bold" fill="#333" text-anchor="middle" transform="translate(406.4 0) scale(0.62 1) translate(-406.4 0)">613</text>
<text x="415.5" y="687.9" font-size="5.2" font-weight="bold" fill="#333" text-anchor="middle" transform="translate(415.5 0) scale(0.62 1) translate(-415.5 0)">734</text>
<text x="411.3" y="733.2" font-size="5.6" fill="#333" text-anchor="middle" transform="translate(411.3 0) scale(0.62 1) translate(-411.3 0)">20~29세</text>
<rect x="425.0" y="713.2" width="7.6" height="8.9" fill="#5B9BD5"/>
<rect x="434.1" y="710.4" width="7.6" height="11.7" fill="#FFC9E6"/>
<text x="428.8" y="710.6" font-size="5.2" font-weight="bold" fill="#333" text-anchor="middle" transform="translate(428.8 0) scale(0.62 1) translate(-428.8 0)">223</text>
<text x="437.9" y="705.4" font-size="5.2" font-weight="bold" fill="#333" text-anchor="middle" transform="translate(437.9 0) scale(0.62 1) translate(-437.9 0)">294</text>
<text x="433.7" y="733.2" font-size="5.6" fill="#333" text-anchor="middle" transform="translate(433.7 0) scale(0.62 1) translate(-433.7 0)">30~39세</text>
<rect x="447.4" y="705.7" width="7.6" height="16.4" fill="#5B9BD5"/>
<rect x="456.5" y="660.8" width="7.6" height="61.3" fill="#FFC9E6"/>
<text x="451.2" y="703.1" font-size="5.2" font-weight="bold" fill="#333" text-anchor="middle" transform="translate(451.2 0) scale(0.62 1) translate(-451.2 0)">411</text>
<text x="460.3" y="655.8" font-size="5.2" font-weight="bold" fill="#333" text-anchor="middle" transform="translate(460.3 0) scale(0.62 1) translate(-460.3 0)">1,539</text>
<text x="456.1" y="733.2" font-size="5.6" fill="#333" text-anchor="middle" transform="translate(456.1 0) scale(0.62 1) translate(-456.1 0)">40~49세</text>
<rect x="469.8" y="702.5" width="7.6" height="19.6" fill="#5B9BD5"/>
<rect x="478.9" y="653.7" width="7.6" height="68.4" fill="#FFC9E6"/>
<text x="473.6" y="699.9" font-size="5.2" font-weight="bold" fill="#333" text-anchor="middle" transform="translate(473.6 0) scale(0.62 1) translate(-473.6 0)">491</text>
<text x="482.7" y="648.7" font-size="5.2" font-weight="bold" fill="#333" text-anchor="middle" transform="translate(482.7 0) scale(0.62 1) translate(-482.7 0)">1,718</text>
<text x="478.5" y="733.2" font-size="5.6" fill="#333" text-anchor="middle" transform="translate(478.5 0) scale(0.62 1) translate(-478.5 0)">50~59세</text>
<rect x="492.2" y="714.8" width="7.6" height="7.3" fill="#5B9BD5"/>
<rect x="501.3" y="700.5" width="7.6" height="21.6" fill="#FFC9E6"/>
<text x="496.0" y="712.2" font-size="5.2" font-weight="bold" fill="#333" text-anchor="middle" transform="translate(496.0 0) scale(0.62 1) translate(-496.0 0)">184</text>
<text x="505.1" y="695.5" font-size="5.2" font-weight="bold" fill="#333" text-anchor="middle" transform="translate(505.1 0) scale(0.62 1) translate(-505.1 0)">542</text>
<text x="500.9" y="733.2" font-size="5.6" fill="#333" text-anchor="middle" transform="translate(500.9 0) scale(0.62 1) translate(-500.9 0)">60~64세</text>
<rect x="514.6" y="714.4" width="7.6" height="7.7" fill="#5B9BD5"/>
<rect x="523.7" y="702.5" width="7.6" height="19.6" fill="#FFC9E6"/>
<text x="518.4" y="711.8" font-size="5.2" font-weight="bold" fill="#333" text-anchor="middle" transform="translate(518.4 0) scale(0.62 1) translate(-518.4 0)">193</text>
<text x="527.5" y="697.5" font-size="5.2" font-weight="bold" fill="#333" text-anchor="middle" transform="translate(527.5 0) scale(0.62 1) translate(-527.5 0)">493</text>
<text x="523.3" y="733.2" font-size="5.6" fill="#333" text-anchor="middle" transform="translate(523.3 0) scale(0.62 1) translate(-523.3 0)">65세이상</text>
<rect x="434.3" y="617.4" width="2.6" height="2.6" fill="#5B9BD5"/>
<text x="437.6" y="620.9" font-size="6" fill="#333" text-anchor="start" transform="translate(437.6 0) scale(0.7 1) translate(-437.6 0)">남자</text>
<rect x="448.8" y="617.4" width="2.6" height="2.6" fill="#FFC9E6"/>
<text x="452.2" y="620.9" font-size="6" fill="#333" text-anchor="start" transform="translate(452.2 0) scale(0.7 1) translate(-452.2 0)">여자</text>
</svg>
</body></html>
